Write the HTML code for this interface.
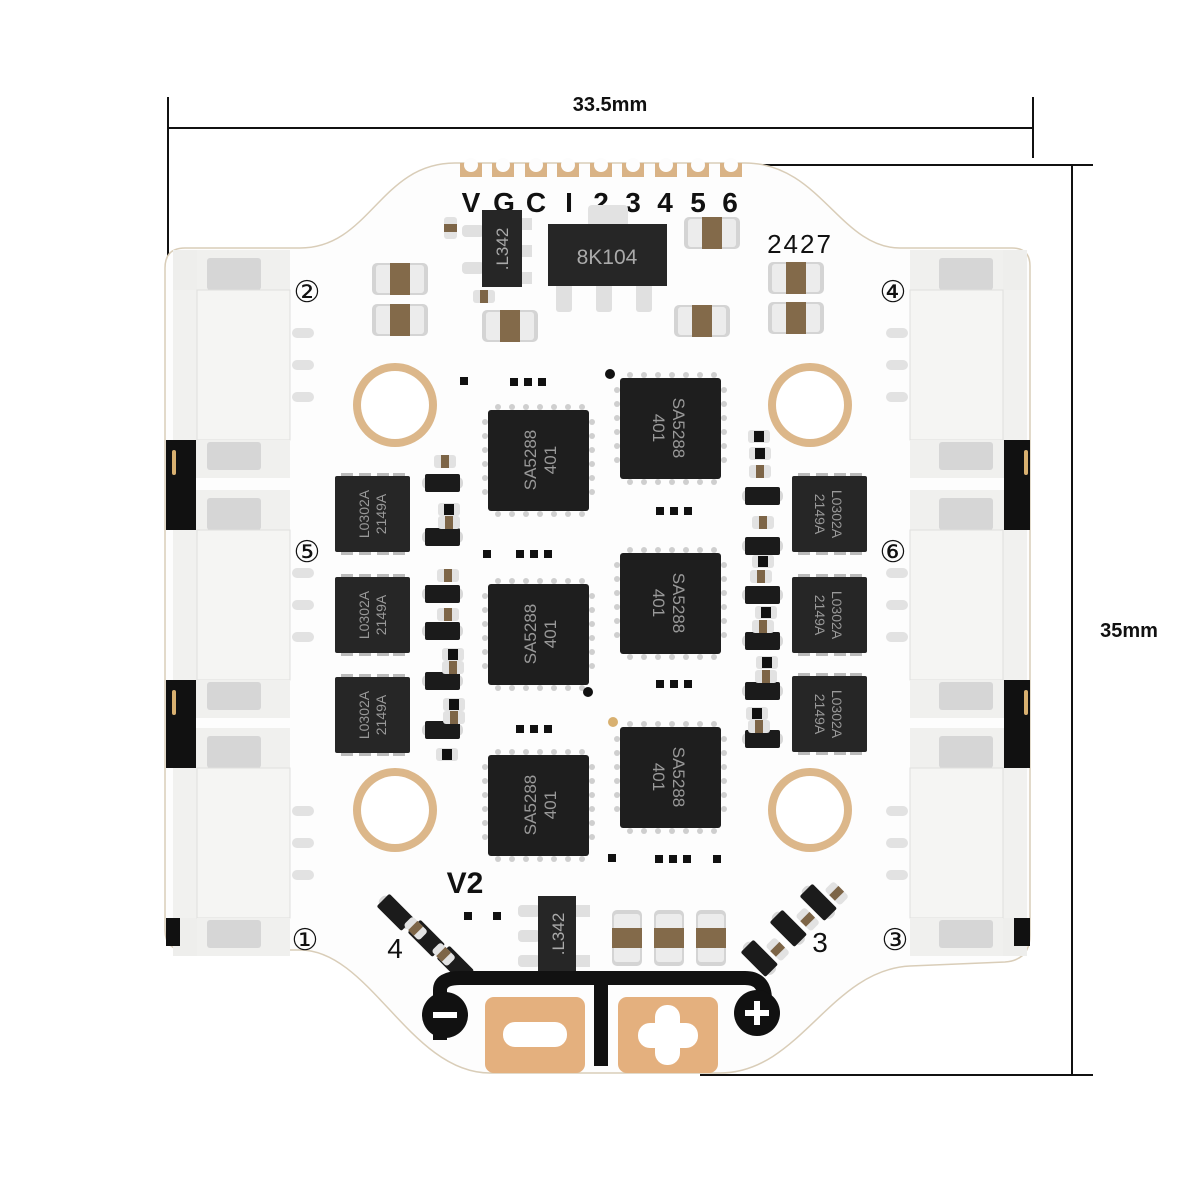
<!DOCTYPE html>
<html><head><meta charset="utf-8"><style>
html,body{margin:0;padding:0;background:#fff;}
svg{display:block}
text{font-family:"Liberation Sans",sans-serif}
</style></head><body>
<svg width="1200" height="1200" viewBox="0 0 1200 1200" xmlns="http://www.w3.org/2000/svg">
<defs>
<g id="capH"><rect x="0" y="0" width="56" height="32" rx="5" fill="#d4d4d4"/><rect x="4" y="2" width="48" height="28" rx="3" fill="#ececec"/><rect x="18" y="0" width="20" height="32" fill="#836a4a"/></g>
<g id="capV"><rect x="0" y="0" width="30" height="56" rx="5" fill="#d4d4d4"/><rect x="2" y="4" width="26" height="48" rx="3" fill="#ececec"/><rect x="0" y="18" width="30" height="20" fill="#836a4a"/></g>
<g id="smallC"><rect x="0" y="0" width="22" height="13" rx="3" fill="#e2e2e2"/><rect x="7" y="0" width="8" height="13" fill="#7d6547"/></g>
<g id="smallR"><rect x="0" y="0" width="22" height="13" rx="3" fill="#e2e2e2"/><rect x="6" y="1" width="10" height="11" fill="#111"/></g>
<g id="diode"><rect x="-3" y="3" width="41" height="12" rx="5" fill="#d8d8d8"/><rect x="0" y="0" width="35" height="18" rx="2" fill="#1b1b1b"/></g>
<g id="qfn"><g fill="#cfcfcf"><circle cx="10" cy="-3" r="3"/><circle cx="24" cy="-3" r="3"/><circle cx="38" cy="-3" r="3"/><circle cx="52" cy="-3" r="3"/><circle cx="66" cy="-3" r="3"/><circle cx="80" cy="-3" r="3"/><circle cx="94" cy="-3" r="3"/><circle cx="10" cy="104" r="3"/><circle cx="24" cy="104" r="3"/><circle cx="38" cy="104" r="3"/><circle cx="52" cy="104" r="3"/><circle cx="66" cy="104" r="3"/><circle cx="80" cy="104" r="3"/><circle cx="94" cy="104" r="3"/><circle cx="-3" cy="12" r="3"/><circle cx="-3" cy="26" r="3"/><circle cx="-3" cy="40" r="3"/><circle cx="-3" cy="54" r="3"/><circle cx="-3" cy="68" r="3"/><circle cx="-3" cy="82" r="3"/><circle cx="104" cy="12" r="3"/><circle cx="104" cy="26" r="3"/><circle cx="104" cy="40" r="3"/><circle cx="104" cy="54" r="3"/><circle cx="104" cy="68" r="3"/><circle cx="104" cy="82" r="3"/></g><rect x="0" y="0" width="101" height="101" rx="3" fill="#1e1e1e"/></g>
<g id="lchip"><g fill="#bbb"><rect x="6" y="-3" width="12" height="4"/><rect x="24" y="-3" width="12" height="4"/><rect x="42" y="-3" width="12" height="4"/><rect x="58" y="-3" width="12" height="4"/><rect x="6" y="75" width="12" height="4"/><rect x="24" y="75" width="12" height="4"/><rect x="42" y="75" width="12" height="4"/><rect x="58" y="75" width="12" height="4"/></g><rect x="0" y="0" width="75" height="76" rx="2" fill="#262626"/></g>
<g id="hole"><circle r="42" fill="#dcb78a"/><circle r="34" fill="#fff"/></g>
<g id="connL">
<rect x="173" y="0" width="40" height="228" fill="#eeeeec"/>
<rect x="197" y="0" width="93" height="40" fill="#f0f0ee"/>
<rect x="207" y="8" width="54" height="32" rx="3" fill="#d6d6d6"/>
<rect x="173" y="40" width="117" height="150" fill="#f1f1ef"/>
<rect x="197" y="40" width="93" height="150" fill="#f5f5f3" stroke="#e0e0de"/>
<rect x="197" y="190" width="93" height="38" fill="#f0f0ee"/>
<rect x="207" y="192" width="54" height="28" rx="3" fill="#d6d6d6"/>
<g fill="#e2e2e2"><rect x="292" y="78" width="22" height="10" rx="5"/><rect x="292" y="110" width="22" height="10" rx="5"/><rect x="292" y="142" width="22" height="10" rx="5"/></g>
</g>
</defs>

<g stroke="#111" stroke-width="2" fill="none">
<line x1="168" y1="97" x2="168" y2="272"/>
<line x1="168" y1="128" x2="1033" y2="128"/>
<line x1="1033" y1="97" x2="1033" y2="158"/>
<line x1="1072" y1="165" x2="1072" y2="1075"/>
<line x1="740" y1="165" x2="1093" y2="165"/>
<line x1="700" y1="1075" x2="1093" y2="1075"/>
</g>
<text x="610" y="111" font-size="20" font-weight="bold" text-anchor="middle" fill="#111">33.5mm</text>
<text x="1129" y="637" font-size="20" font-weight="bold" text-anchor="middle" fill="#111">35mm</text>

<path d="M185,248 L300,248 C370,248 380,163 455,163 L745,163 C820,163 840,248 900,248 L1012,248 Q1030,248 1030,266 L1030,935 Q1030,960 1005,962 L910,966 C830,970 800,1073 720,1073 L490,1073 C410,1073 370,950 300,950 L185,950 Q165,950 165,930 L165,268 Q165,248 185,248 Z" fill="#fdfdfd" stroke="#d9cdb8" stroke-width="1.5"/>

<use href="#connL" y="250"/>
<use href="#connL" y="490"/>
<use href="#connL" y="728"/>
<g transform="translate(1200,0) scale(-1,1)">
<use href="#connL" y="250"/>
<use href="#connL" y="490"/>
<use href="#connL" y="728"/>
</g>

<g fill="#111"><rect x="166" y="440" width="30" height="90"/><rect x="166" y="680" width="30" height="88"/><rect x="166" y="918" width="14" height="28"/>
<rect x="1004" y="440" width="26" height="90"/><rect x="1004" y="680" width="26" height="88"/><rect x="1014" y="918" width="16" height="28"/></g>
<g fill="#d8b070"><rect x="172" y="450" width="4" height="25" rx="2"/><rect x="172" y="690" width="4" height="25" rx="2"/><rect x="1024" y="450" width="4" height="25" rx="2"/><rect x="1024" y="690" width="4" height="25" rx="2"/></g>

<g font-size="30" fill="#111" text-anchor="middle">
<text x="307" y="302">②</text><text x="307" y="562">⑤</text><text x="305" y="950">①</text>
<text x="893" y="302">④</text><text x="893" y="562">⑥</text><text x="895" y="950">③</text>
</g>

<g fill="#d9b386">
<path d="M460,163h22v14h-22z"/><path d="M492,163h22v14h-22z"/><path d="M525,163h22v14h-22z"/><path d="M557,163h22v14h-22z"/><path d="M590,163h22v14h-22z"/><path d="M622,163h22v14h-22z"/><path d="M655,163h22v14h-22z"/><path d="M687,163h22v14h-22z"/><path d="M720,163h22v14h-22z"/>
</g>
<g fill="#fdfdfd"><circle cx="471" cy="165" r="7"/><circle cx="503" cy="165" r="7"/><circle cx="536" cy="165" r="7"/><circle cx="568" cy="165" r="7"/><circle cx="601" cy="165" r="7"/><circle cx="633" cy="165" r="7"/><circle cx="666" cy="165" r="7"/><circle cx="698" cy="165" r="7"/><circle cx="731" cy="165" r="7"/></g>
<g font-size="28" font-weight="bold" fill="#111" text-anchor="middle">
<text x="471" y="212">V</text><text x="504" y="212">G</text><text x="536" y="212">C</text><text x="569" y="212">I</text><text x="601" y="212">2</text><text x="633" y="212">3</text><text x="665" y="212">4</text><text x="698" y="212">5</text><text x="730" y="212">6</text>
</g>
<text x="800" y="253" font-size="26" font-family="Liberation Mono" fill="#111" text-anchor="middle" letter-spacing="2">2427</text>

<g fill="#e0e0e0"><rect x="462" y="225" width="22" height="12" rx="4"/><rect x="462" y="262" width="22" height="12" rx="4"/><rect x="518" y="218" width="14" height="12"/><rect x="518" y="245" width="14" height="12"/><rect x="518" y="272" width="14" height="12"/></g>
<rect x="482" y="210" width="40" height="77" fill="#262626"/>
<text transform="translate(508,249) rotate(-90)" font-size="17" fill="#aaa" text-anchor="middle">.L342</text>
<rect x="588" y="205" width="40" height="22" rx="4" fill="#e2e2e2"/>
<g fill="#e0e0e0"><rect x="556" y="284" width="16" height="28" rx="3"/><rect x="596" y="284" width="16" height="28" rx="3"/><rect x="636" y="284" width="16" height="28" rx="3"/></g>
<rect x="548" y="224" width="119" height="62" fill="#262626"/>
<text x="607" y="264" font-size="21" fill="#aaa" text-anchor="middle">8K104</text>
<use href="#capH" x="372" y="263"/><use href="#capH" x="372" y="304"/>
<use href="#capH" x="482" y="310"/><use href="#capH" x="674" y="305"/>
<use href="#capH" x="684" y="217"/>
<use href="#capH" x="768" y="262"/><use href="#capH" x="768" y="302"/>
<use href="#smallC" x="440" y="222" transform="rotate(90 451 228)"/>
<use href="#smallC" x="473" y="290"/>

<use href="#hole" x="395" y="405"/><use href="#hole" x="810" y="405"/>
<use href="#hole" x="395" y="810"/><use href="#hole" x="810" y="810"/>

<use href="#qfn" x="488" y="410"/><use href="#qfn" x="620" y="378"/>
<use href="#qfn" x="488" y="584"/><use href="#qfn" x="620" y="553"/>
<use href="#qfn" x="488" y="755"/><use href="#qfn" x="620" y="727"/>
<g font-size="17" fill="#999" text-anchor="middle">
<text transform="translate(538,460) rotate(-90)"><tspan x="0" y="-2">SA5288</tspan><tspan x="0" y="18">401</tspan></text>
<text transform="translate(538,634) rotate(-90)"><tspan x="0" y="-2">SA5288</tspan><tspan x="0" y="18">401</tspan></text>
<text transform="translate(538,805) rotate(-90)"><tspan x="0" y="-2">SA5288</tspan><tspan x="0" y="18">401</tspan></text>
<text transform="translate(671,428) rotate(90)"><tspan x="0" y="-2">SA5288</tspan><tspan x="0" y="18">401</tspan></text>
<text transform="translate(671,603) rotate(90)"><tspan x="0" y="-2">SA5288</tspan><tspan x="0" y="18">401</tspan></text>
<text transform="translate(671,777) rotate(90)"><tspan x="0" y="-2">SA5288</tspan><tspan x="0" y="18">401</tspan></text>
</g>
<circle cx="610" cy="374" r="5" fill="#111"/><circle cx="588" cy="692" r="5" fill="#111"/><circle cx="613" cy="722" r="5" fill="#d8b070"/>

<use href="#lchip" x="335" y="476"/><use href="#lchip" x="335" y="577"/><use href="#lchip" x="335" y="677"/>
<use href="#lchip" x="792" y="476"/><use href="#lchip" x="792" y="577"/><use href="#lchip" x="792" y="676"/>
<g font-size="14" fill="#999" text-anchor="middle">
<text transform="translate(372,514) rotate(-90)"><tspan x="0" y="-3">L0302A</tspan><tspan x="0" y="14">2149A</tspan></text>
<text transform="translate(372,615) rotate(-90)"><tspan x="0" y="-3">L0302A</tspan><tspan x="0" y="14">2149A</tspan></text>
<text transform="translate(372,715) rotate(-90)"><tspan x="0" y="-3">L0302A</tspan><tspan x="0" y="14">2149A</tspan></text>
<text transform="translate(829,514) rotate(90)"><tspan x="0" y="-3">L0302A</tspan><tspan x="0" y="14">2149A</tspan></text>
<text transform="translate(829,615) rotate(90)"><tspan x="0" y="-3">L0302A</tspan><tspan x="0" y="14">2149A</tspan></text>
<text transform="translate(829,714) rotate(90)"><tspan x="0" y="-3">L0302A</tspan><tspan x="0" y="14">2149A</tspan></text>
</g>

<use href="#diode" x="425" y="474"/><use href="#diode" x="425" y="528"/><use href="#diode" x="425" y="585"/><use href="#diode" x="425" y="622"/><use href="#diode" x="425" y="672"/><use href="#diode" x="425" y="721"/>
<use href="#diode" x="745" y="487"/><use href="#diode" x="745" y="537"/><use href="#diode" x="745" y="586"/><use href="#diode" x="745" y="632"/><use href="#diode" x="745" y="682"/><use href="#diode" x="745" y="730"/>
<g>
<use href="#smallC" x="434" y="455"/><use href="#smallR" x="438" y="503"/><use href="#smallC" x="438" y="516"/><use href="#smallC" x="437" y="569"/><use href="#smallC" x="437" y="608"/><use href="#smallR" x="442" y="648"/><use href="#smallC" x="442" y="661"/><use href="#smallR" x="443" y="698"/><use href="#smallC" x="443" y="711"/><use href="#smallR" x="436" y="748"/>
<use href="#smallR" x="748" y="430"/><use href="#smallR" x="749" y="447"/><use href="#smallC" x="749" y="465"/><use href="#smallC" x="752" y="516"/><use href="#smallR" x="752" y="555"/><use href="#smallC" x="750" y="570"/><use href="#smallR" x="755" y="606"/><use href="#smallC" x="752" y="620"/><use href="#smallR" x="756" y="656"/><use href="#smallC" x="755" y="670"/><use href="#smallR" x="746" y="707"/><use href="#smallC" x="748" y="720"/>
</g>
<g fill="#111">
<rect x="510" y="378" width="8" height="8"/><rect x="524" y="378" width="8" height="8"/><rect x="538" y="378" width="8" height="8"/><rect x="460" y="377" width="8" height="8"/>
<rect x="656" y="507" width="8" height="8"/><rect x="670" y="507" width="8" height="8"/><rect x="684" y="507" width="8" height="8"/>
<rect x="516" y="550" width="8" height="8"/><rect x="530" y="550" width="8" height="8"/><rect x="544" y="550" width="8" height="8"/><rect x="483" y="550" width="8" height="8"/>
<rect x="656" y="680" width="8" height="8"/><rect x="670" y="680" width="8" height="8"/><rect x="684" y="680" width="8" height="8"/>
<rect x="516" y="725" width="8" height="8"/><rect x="530" y="725" width="8" height="8"/><rect x="544" y="725" width="8" height="8"/>
<rect x="655" y="855" width="8" height="8"/><rect x="669" y="855" width="8" height="8"/><rect x="683" y="855" width="8" height="8"/><rect x="608" y="854" width="8" height="8"/><rect x="713" y="855" width="8" height="8"/>
<rect x="464" y="912" width="8" height="8"/><rect x="493" y="912" width="8" height="8"/>
</g>

<text x="465" y="893" font-size="30" font-weight="bold" fill="#111" text-anchor="middle">V2</text>
<g fill="#e0e0e0"><rect x="518" y="905" width="22" height="12" rx="4"/><rect x="518" y="930" width="22" height="12" rx="4"/><rect x="518" y="955" width="22" height="12" rx="4"/><rect x="576" y="905" width="14" height="12"/><rect x="576" y="955" width="14" height="12"/></g>
<rect x="538" y="896" width="38" height="76" fill="#262626"/>
<text transform="translate(564,934) rotate(-90)" font-size="17" fill="#aaa" text-anchor="middle">.L342</text>
<use href="#capV" x="612" y="910"/><use href="#capV" x="654" y="910"/><use href="#capV" x="696" y="910"/>
<g transform="translate(395,912) rotate(45)"><use href="#diode" x="-17" y="-9"/></g>
<g transform="translate(426,938) rotate(45)"><use href="#diode" x="-17" y="-9"/></g>
<g transform="translate(455,964) rotate(45)"><use href="#diode" x="-17" y="-9"/></g>
<g transform="translate(818,902) rotate(45)"><use href="#diode" x="-17" y="-9"/></g>
<g transform="translate(788,928) rotate(45)"><use href="#diode" x="-17" y="-9"/></g>
<g transform="translate(759,958) rotate(45)"><use href="#diode" x="-17" y="-9"/></g>
<use href="#smallC" x="405" y="922" transform="rotate(45 416 928)"/>
<use href="#smallC" x="433" y="948" transform="rotate(45 444 954)"/>
<use href="#smallC" x="826" y="887" transform="rotate(45 837 893)"/>
<use href="#smallC" x="797" y="913" transform="rotate(45 808 919)"/>
<use href="#smallC" x="767" y="943" transform="rotate(45 778 949)"/>
<text x="395" y="958" font-size="28" fill="#111" text-anchor="middle">4</text>
<text x="820" y="952" font-size="28" fill="#111" text-anchor="middle">3</text>

<path d="M440,1040 L440,990 Q440,978 460,978 L745,978 Q765,978 765,1000" fill="none" stroke="#111" stroke-width="14"/>
<rect x="594" y="978" width="14" height="88" fill="#111"/>
<circle cx="445" cy="1015" r="23" fill="#111"/><rect x="433" y="1012" width="24" height="6" fill="#fff"/>
<circle cx="757" cy="1013" r="23" fill="#111"/><rect x="745" y="1010" width="24" height="6" fill="#fff"/><rect x="754" y="1001" width="6" height="24" fill="#fff"/>
<rect x="485" y="997" width="100" height="76" rx="9" fill="#e4b07e"/>
<rect x="618" y="997" width="100" height="76" rx="9" fill="#e4b07e"/>
<rect x="503" y="1022" width="64" height="25" rx="12" fill="#fff"/>
<rect x="638" y="1023" width="60" height="25" rx="12" fill="#fff"/><rect x="655" y="1005" width="25" height="60" rx="12" fill="#fff"/>
</svg>
</body></html>
